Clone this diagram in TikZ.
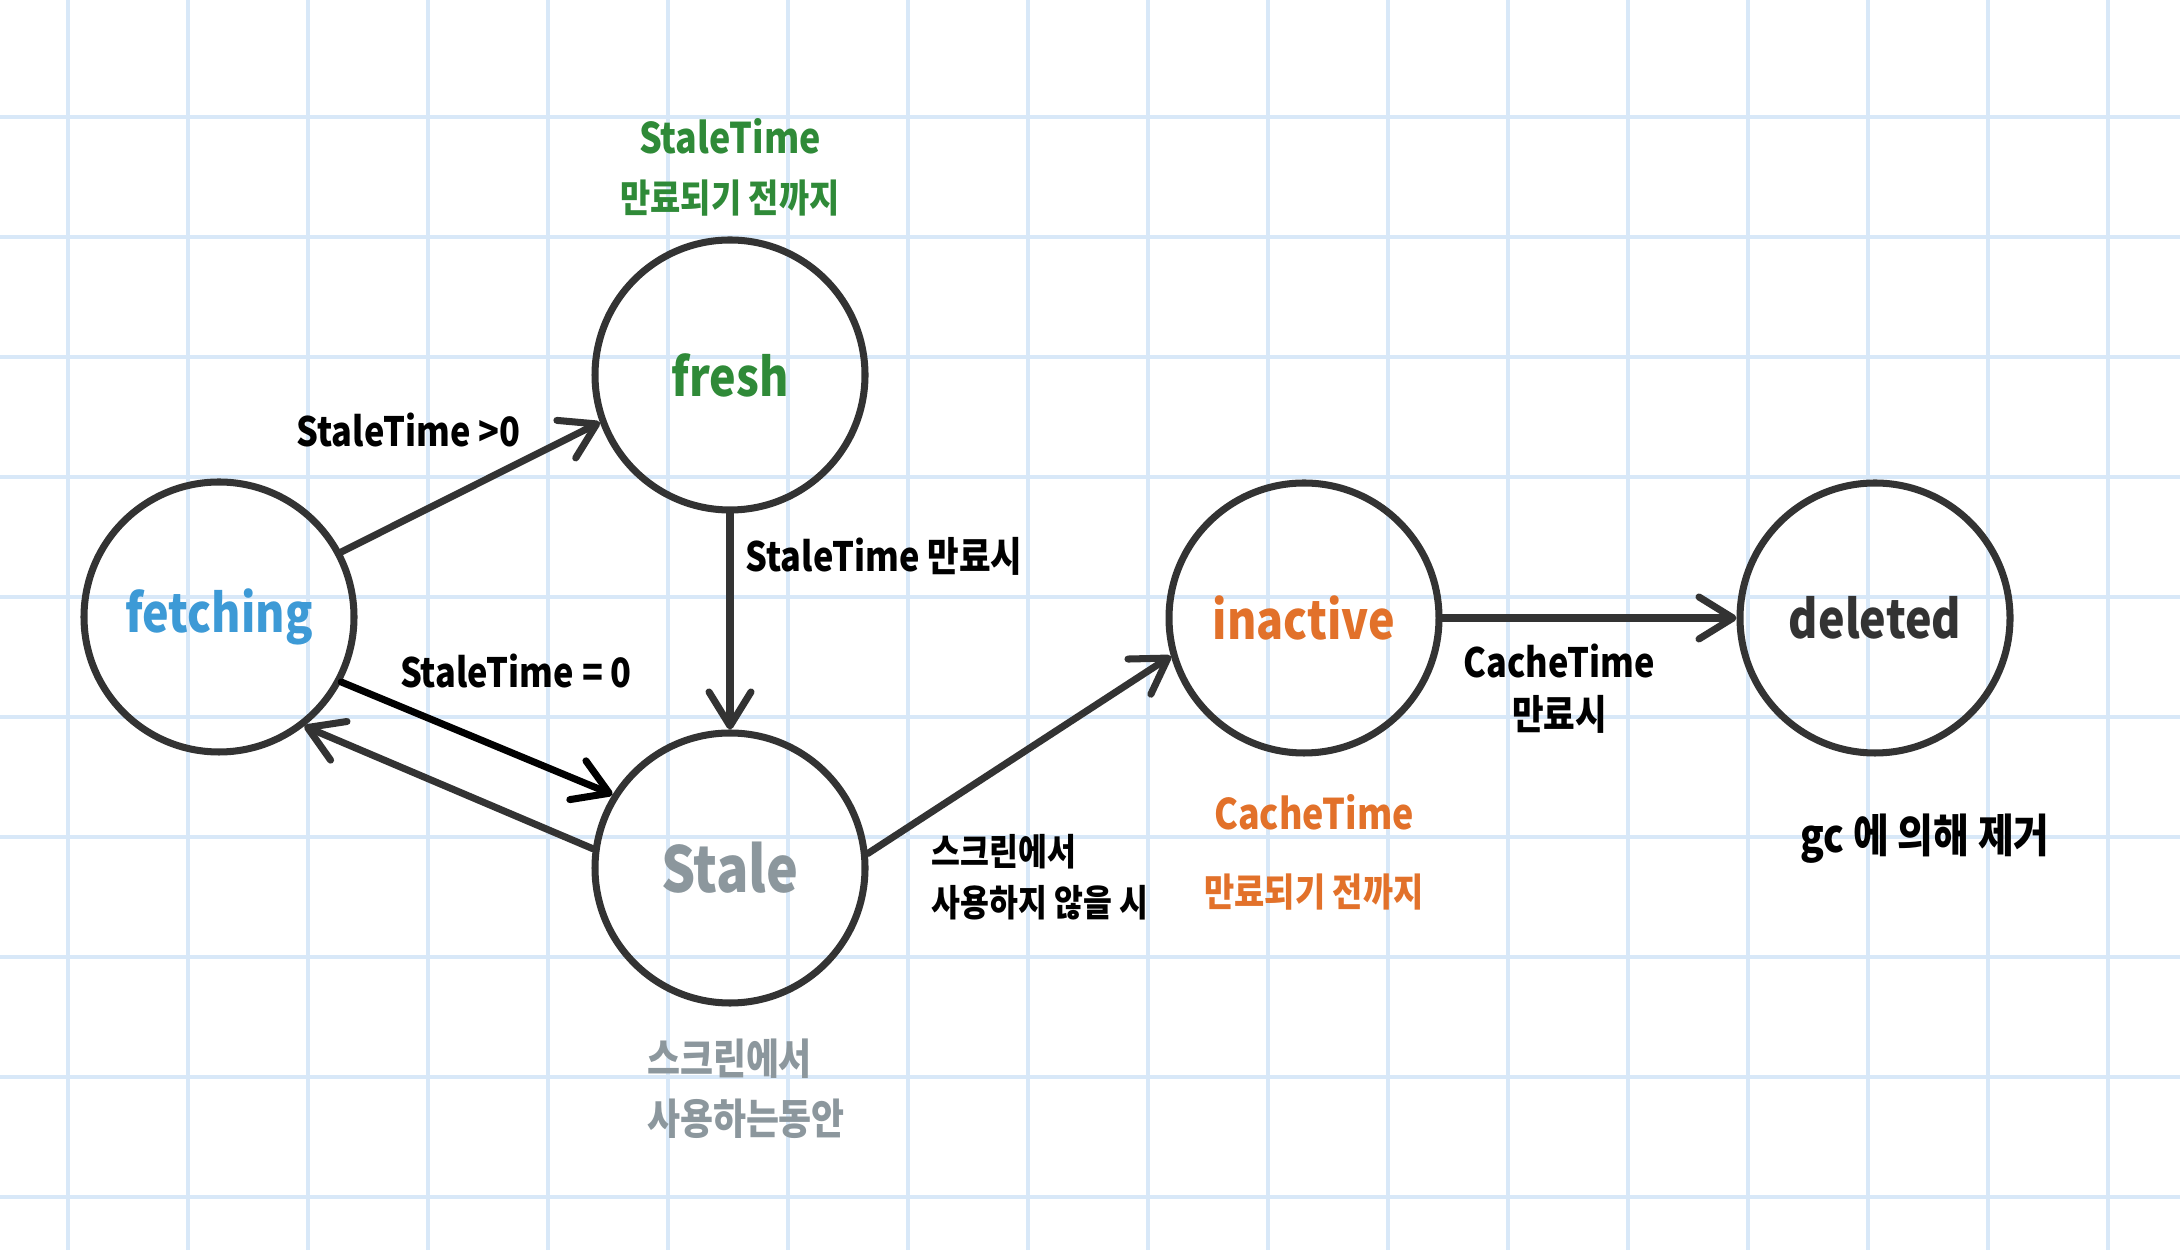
\documentclass[tikz,border=0pt]{standalone}
\usepackage{fontspec}
\setmainfont{Noto Sans CJK KR}[FakeStretch=0.85]
\usepackage{tikz}
\usetikzlibrary{arrows.meta,positioning}
\definecolor{ink}{HTML}{333333}
\definecolor{gridblue}{HTML}{D8E8F8}
\definecolor{leaf}{HTML}{2F8A38}
\definecolor{sky}{HTML}{3D9AD6}
\definecolor{ash}{HTML}{8C979D}
\definecolor{ember}{HTML}{E2712A}
\newcommand{\statefont}{\fontsize{15}{18}\selectfont\bfseries}
\newcommand{\labelfont}{\fontsize{11.5}{15}\selectfont\bfseries}
\newcommand{\notefont}{\fontsize{12}{17}\selectfont\bfseries}
\newcommand{\krsmall}{\fontsize{11}{15}\selectfont}
\tikzset{
  gridline/.style={draw=gridblue, line width=0.9pt},
  statenode/.style={
    circle, draw=ink, line width=2pt,
    minimum size=2.7cm, inner sep=0pt,
    font=\statefont, text=#1
  },
  statenode/.default=ink,
  trans/.style={
    -{Straight Barb[length=3.4mm, width=4.2mm, round]},
    line width=2pt, line cap=round, color=#1
  },
  trans/.default=ink,
  elabel/.style={font=\labelfont, text=black, align=center, inner sep=2pt},
  note/.style={font=\notefont, text=#1, align=center, inner sep=2pt},
  note/.default=black,
}
\begin{document}
\begin{tikzpicture}
% Paper
\useasboundingbox (0,0) rectangle (21.8,12.5);
\fill[white] (0,0) rectangle (21.8,12.5);
\foreach \x in {0,...,17}
  \draw[gridline] (0.68+1.2*\x,0) -- (0.68+1.2*\x,12.5);
\foreach \y in {0,...,9}
  \draw[gridline] (0,0.53+1.2*\y) -- (21.8,0.53+1.2*\y);

% States
\node[statenode=sky] (fetching) at (2.19,6.33) {fetching};
\node[statenode=leaf] (fresh) at (7.30,8.75) {fresh};
\node[statenode=ash, font=\fontsize{18}{20}\selectfont\bfseries] (stale) at (7.30,3.82) {Stale};
\node[statenode=ember] (inactive) at (13.04,6.32) {inactive};
\node[statenode=ink] (deleted) at (18.75,6.32) {deleted};

% Transitions
\draw[trans] (fetching.28) -- (fresh.200)
  node[elabel, midway, shift={(-0.62,0.57)}] (lbl-pos) {StaleTime >0};
\draw[trans] (fresh.south) -- (stale.north)
  node[elabel, pos=0.2, right=0.05cm] (lbl-expire) {StaleTime 만료시};
\draw[trans=black] (fetching.332) -- (stale.148)
  node[elabel, midway, shift={(0.39,0.67)}] (lbl-zero) {StaleTime = 0};
\draw[trans] (stale.172) -- (fetching.308);
\draw[trans] (stale.6) -- (inactive.196)
  node[elabel, font=\fontsize{10.5}{14.5}\selectfont\bfseries, pos=0.15, anchor=north west, xshift=0.08cm, align=left] (lbl-unused) {스크린에서\\사용하지 않을 시};
\draw[trans] (inactive) -- (deleted)
  node[elabel, midway, below=0.15cm, xshift=-0.3cm] (lbl-cache) {CacheTime\\만료시};

% Notes
\node[note=leaf, above=0.12cm of fresh] (fresh-note) {StaleTime\\{\krsmall 만료되기 전까지}};
\node[note=ash, below=0.25cm of stale, xshift=0.16cm, align=left] (stale-note) {스크린에서\\사용하는동안};
\node[note=ember, below=0.3cm of inactive, xshift=0.1cm] (inactive-note) {CacheTime\\[5pt]{\krsmall 만료되기 전까지}};
\node[note, font=\fontsize{13}{17}\selectfont\bfseries, below=0.5cm of deleted, xshift=0.5cm] (deleted-note) {gc 에 의해 제거};
\end{tikzpicture}
\end{document}
